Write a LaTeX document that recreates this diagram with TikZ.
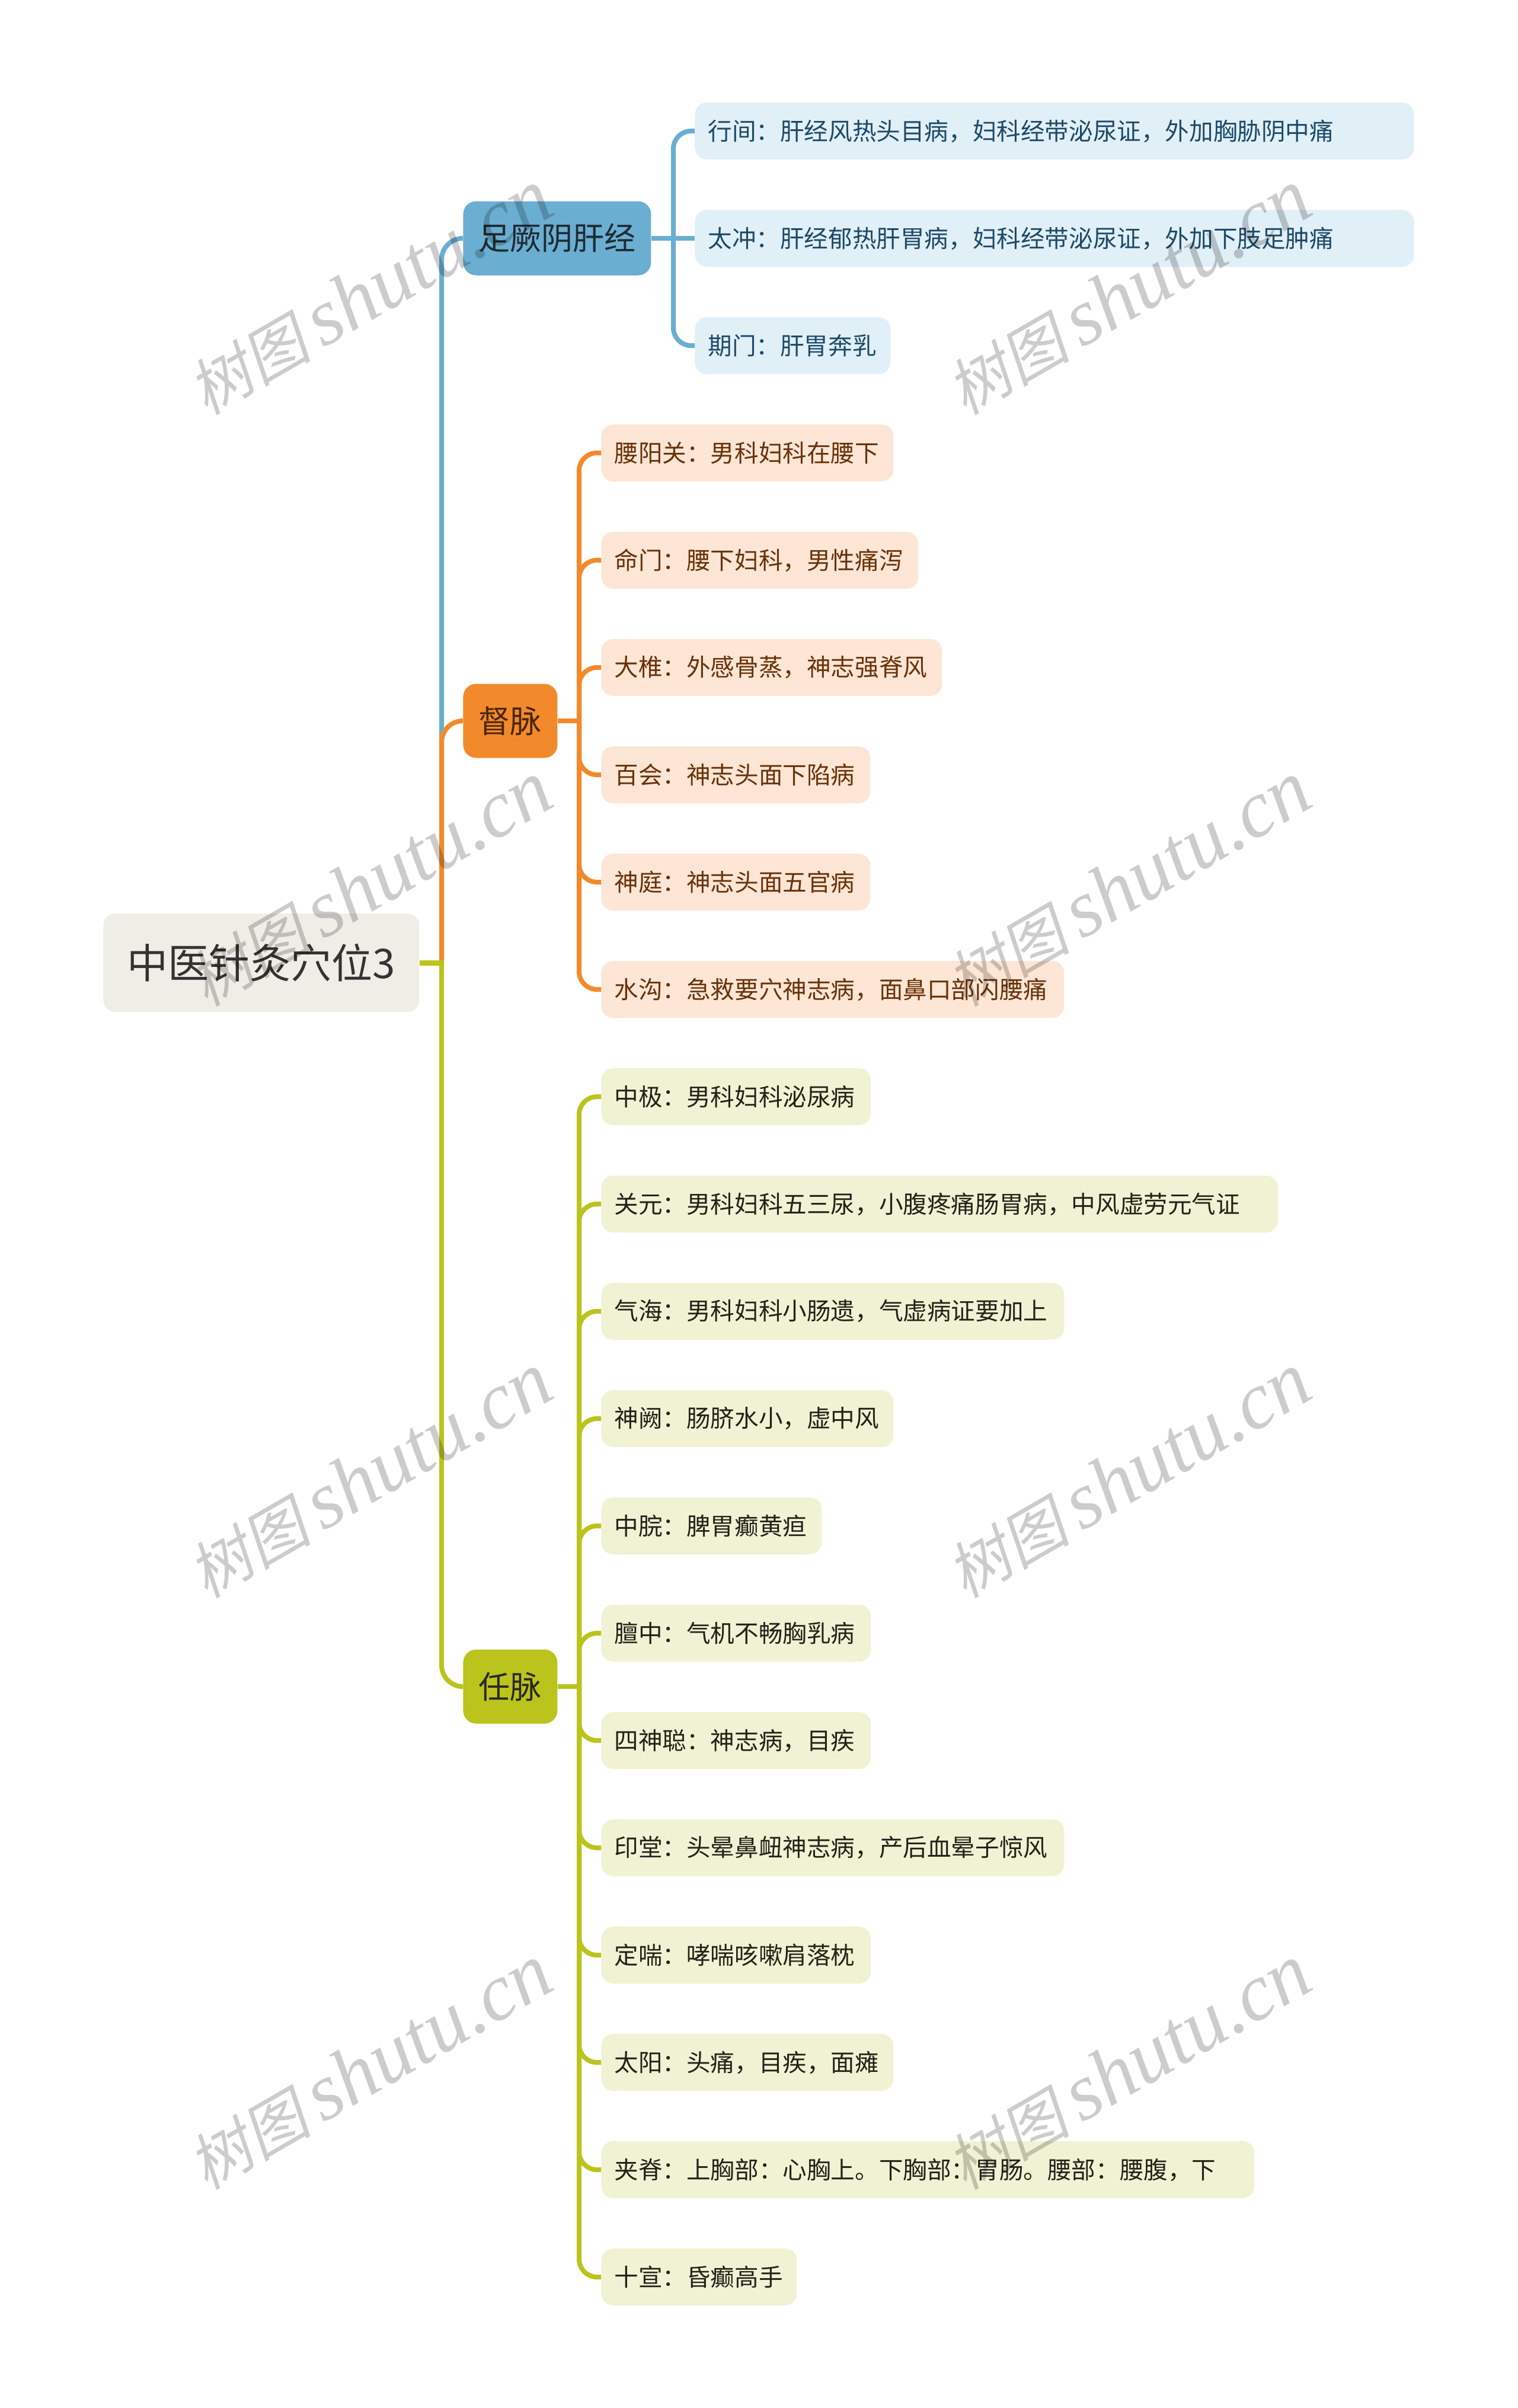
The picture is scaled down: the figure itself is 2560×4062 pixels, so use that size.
\documentclass[tikz,border=0pt]{standalone}
\usepackage{fontspec}
\setmainfont{Noto Sans CJK SC}
\newfontfamily\wmcjk[FakeSlant=0.2]{Noto Sans CJK SC}
\newfontfamily\wmlat{Liberation Serif}
\definecolor{rootfill}{HTML}{EFEEE6}
\definecolor{roottext}{HTML}{333333}
\definecolor{cblue}{HTML}{6AAED1}
\definecolor{corange}{HTML}{F28A2B}
\definecolor{cgreen}{HTML}{BBC31D}
\definecolor{lbfill}{HTML}{E1EFF7}
\definecolor{lofill}{HTML}{FDE6D6}
\definecolor{lgfill}{HTML}{F1F2D4}
\definecolor{lbtext}{HTML}{1C4A68}
\definecolor{lotext}{HTML}{6A3208}
\definecolor{lgtext}{HTML}{222218}
\definecolor{btbtext}{HTML}{1F2A33}
\definecolor{botext}{HTML}{4A260A}
\definecolor{bgtext}{HTML}{2A2A1C}
\begin{document}
\begin{tikzpicture}[x=0.5pt,y=-0.5pt,
  rootbox/.style={rectangle, anchor=west, rounded corners=10pt, fill=rootfill, text=roottext,
    minimum width=266.5pt, minimum height=83pt, inner sep=0pt,
    font=\fontsize{34.5pt}{40pt}\selectfont},
  brbox/.style={rectangle, anchor=west, rounded corners=11pt, minimum width=79.5pt,
    minimum height=62.5pt, inner sep=0pt, font=\fontsize{26.5pt}{30pt}\selectfont},
  leafbase/.style={rectangle, anchor=west, rounded corners=10pt, inner xsep=11pt, inner ysep=0pt,
    minimum height=48pt, align=left, font=\fontsize{20.3pt}{24pt}\selectfont},
  leafB/.style={leafbase, fill=lbfill, text=lbtext},
  leafO/.style={leafbase, fill=lofill, text=lotext},
  leafG/.style={leafbase, fill=lgfill, text=lgtext},
  conn/.style={line width=4pt, rounded corners=15pt},
  rconn/.style={line width=4pt, rounded corners=18pt},
  wm/.style={anchor=base west, rotate=30, inner sep=0pt, text=black, text opacity=0.2}
]
\useasboundingbox (0,0) rectangle (2560,4062);
\fill[white] (0,0) rectangle (2560,4062);

% root and branches
\node[rootbox] (root) at (174,1624) {中医针灸穴位3};
\node[brbox, fill=cblue, text=btbtext, minimum width=158.5pt] (b1) at (781,402) {足厥阴肝经};
\node[brbox, fill=corange, text=botext] (b2) at (781,1216) {督脉};
\node[brbox, fill=cgreen, text=bgtext] (b3) at (781,2845) {任脉};

% leaves blue
\node[leafB, text width=584.5pt] (l0) at (1172,221) {行间：肝经风热头目病，妇科经带泌尿证，外加胸胁阴中痛};
\node[leafB, text width=584.5pt] (l1) at (1172,402) {太冲：肝经郁热肝胃病，妇科经带泌尿证，外加下肢足肿痛};
\node[leafB, text width=143pt] (l2) at (1172,583) {期门：肝胃奔乳};
% leaves orange
\node[leafO, text width=224.5pt] (l3) at (1014,764) {腰阳关：男科妇科在腰下};
\node[leafO, text width=245.5pt] (l4) at (1014,945) {命门：腰下妇科，男性痛泻};
\node[leafO, text width=265.5pt] (l5) at (1014,1126) {大椎：外感骨蒸，神志强脊风};
\node[leafO, text width=205pt] (l6) at (1014,1307) {百会：神志头面下陷病};
\node[leafO, text width=205pt] (l7) at (1014,1488) {神庭：神志头面五官病};
\node[leafO, text width=368.5pt] (l8) at (1014,1669) {水沟：急救要穴神志病，面鼻口部闪腰痛};
% leaves green
\node[leafG, text width=205.5pt] (l9) at (1014,1850) {中极：男科妇科泌尿病};
\node[leafG, text width=549pt] (l10) at (1014,2031) {关元：男科妇科五三尿，小腹疼痛肠胃病，中风虚劳元气证};
\node[leafG, text width=368.5pt] (l11) at (1014,2212) {气海：男科妇科小肠遗，气虚病证要加上};
\node[leafG, text width=224.5pt] (l12) at (1014,2393) {神阙：肠脐水小，虚中风};
\node[leafG, text width=164pt] (l13) at (1014,2574) {中脘：脾胃癫黄疸};
\node[leafG, text width=205.5pt] (l14) at (1014,2755) {膻中：气机不畅胸乳病};
\node[leafG, text width=205.5pt] (l15) at (1014,2936) {四神聪：神志病，目疾};
\node[leafG, text width=368.5pt] (l16) at (1014,3117) {印堂：头晕鼻衄神志病，产后血晕子惊风};
\node[leafG, text width=205.5pt] (l17) at (1014,3298) {定喘：哮喘咳嗽肩落枕};
\node[leafG, text width=224.5pt] (l18) at (1014,3479) {太阳：头痛，目疾，面瘫};
\node[leafG, text width=529pt] (l19) at (1014,3660) {夹脊：上胸部：心胸上。下胸部：胃肠。腰部：腰腹，下};
\node[leafG, text width=143pt] (l20) at (1014,3841) {十宣：昏癫高手};

% junctions
\coordinate (j0) at (745,1624);
\coordinate (j1) at (1136,402);
\coordinate (j2) at (977,1216);
\coordinate (j3) at (977,2845);

% root connectors
\draw[rconn, draw=cblue] (j0) |- (b1.west);
\draw[rconn, draw=corange] (j0) |- (b2.west);
\draw[rconn, draw=cgreen] (j0) |- (b3.west);
\draw[line width=4.5pt, draw=cgreen] (root.east) -- ([xshift=2pt]j0);

% blue branch
\draw[conn, draw=cblue] (b1.east) -- (j1);
\draw[conn, draw=cblue] (j1) |- (l0.west);
\draw[conn, draw=cblue] (j1) -- (l1.west);
\draw[conn, draw=cblue] (j1) |- (l2.west);

% orange branch
\draw[conn, draw=corange] (b2.east) -- (j2);
\foreach \n in {l3,l4,l5,l6,l7,l8} \draw[conn, draw=corange] (j2) |- (\n.west);

% green branch
\draw[conn, draw=cgreen] (b3.east) -- (j3);
\foreach \n in {l9,l10,l11,l12,l13,l14,l15,l16,l17,l18,l19,l20} \draw[conn, draw=cgreen] (j3) |- (\n.west);

% watermarks
\foreach \cx in {0,1} {
  \foreach \ry in {0,1,2,3} {
    \node[wm] (wm\cx\ry) at (348+1280*\cx, 702+998*\ry)
      {{\wmcjk\fontsize{52pt}{52pt}\selectfont 树图}\hspace{10pt}{\wmlat\itshape\fontsize{68pt}{68pt}\selectfont shutu.cn}};
  }
}
\end{tikzpicture}
\end{document}
